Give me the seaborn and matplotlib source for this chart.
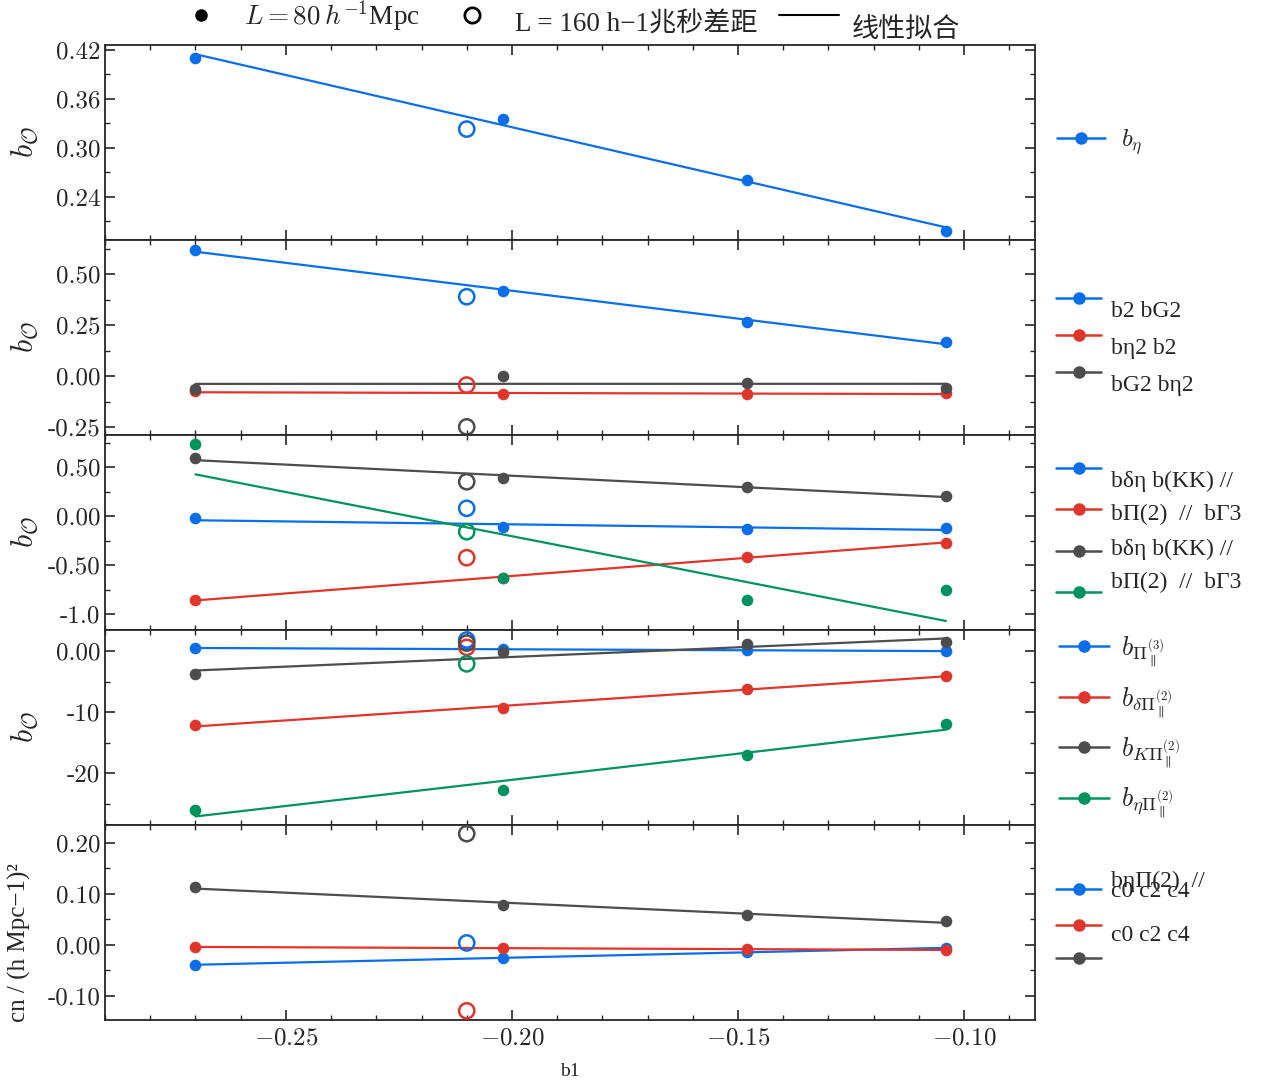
import numpy as np
import matplotlib
matplotlib.use('Agg')
import matplotlib.pyplot as plt
import seaborn as sns
from matplotlib.lines import Line2D
from matplotlib.ticker import MultipleLocator, AutoMinorLocator
from matplotlib.transforms import ScaledTranslation

# b1 of the 80 Mpc/h boxes (filled) and the 160 Mpc/h box (open)
b1_80 = [-0.270, -0.202, -0.148, -0.104]
b1_160 = [-0.210]

# panel 1
b_eta = [0.410, 0.335, 0.261, 0.198]
b_eta_160 = [0.323]

# panel 2
p2_blue = [0.618, 0.415, 0.265, 0.168]
p2_red = [-0.074, -0.090, -0.090, -0.082]
p2_gray = [-0.062, 0.000, -0.033, -0.057]
p2_blue_160 = [0.389]
p2_red_160 = [-0.044]
p2_gray_160 = [-0.249]

# panel 3
p3_blue = [-0.023, -0.109, -0.133, -0.119]
p3_red = [-0.857, -0.630, -0.415, -0.272]
p3_gray = [0.589, 0.385, 0.293, 0.207]
p3_green = [0.735, -0.630, -0.857, -0.755]
p3_blue_160 = [0.079]
p3_red_160 = [-0.425]
p3_gray_160 = [0.350]
p3_green_160 = [-0.160]

# panel 4
p4_blue = [0.5, 0.3, 0.1, 0.0]
p4_red = [-12.2, -9.3, -6.2, -4.1]
p4_gray = [-3.8, -0.2, 1.1, 1.4]
p4_green = [-26.1, -22.8, -17.0, -12.0]
p4_blue_160 = [1.8]
p4_red_160 = [0.6]
p4_gray_160 = [1.3]
p4_green_160 = [-2.1]

# panel 5
p5_blue = [-0.039, -0.025, -0.014, -0.006]
p5_red = [-0.004, -0.006, -0.008, -0.010]
p5_gray = [0.114, 0.078, 0.059, 0.047]
p5_blue_160 = [0.004]
p5_red_160 = [-0.129]
p5_gray_160 = [0.218]

labels_p1 = [r'$b_{\eta}$']
labels_p2 = ['b2 bG2', 'bη2 b2', 'bG2 bη2']
labels_p3 = ['bδη b(KK) //', 'bΠ(2)  //  bΓ3', 'bδη b(KK) //', 'bΠ(2)  //  bΓ3']
labels_p4 = [r'$b_{\Pi^{(3)}_{\parallel}}$', r'$b_{\delta\Pi^{(2)}_{\parallel}}$',
             r'$b_{K\Pi^{(2)}_{\parallel}}$', r'$b_{\eta\Pi^{(2)}_{\parallel}}$']
labels_p5 = ['bηΠ(2)  //\nc0 c2 c4', 'c0 c2 c4', '']
top_labels = [r'$L = 80\,h^{-1}$Mpc', 'L = 160 h−1兆秒差距', '线性拟合']

yticks = [
    ([0.24, 0.30, 0.36, 0.42], ['0.24', '0.30', '0.36', '0.42']),
    ([-0.25, 0.0, 0.25, 0.50], ['-0.25', '0.00', '0.25', '0.50']),
    ([-1.0, -0.5, 0.0, 0.5], ['-1.0', '-0.50', '0.00', '0.50']),
    ([-20, -10, 0], ['-20', '-10', '0.00']),
    ([-0.10, 0.0, 0.10, 0.20], ['-0.10', '0.00', '0.10', '0.20']),
]
ylims = [(0.187, 0.426), (-0.289, 0.667), (-1.163, 0.827), (-28.5, 3.44), (-0.147, 0.235)]

BLUE, RED, GRAY, GREEN = '#0a6ee8', '#e0352a', '#4d4d4d', '#00935f'
TEXT_FONT = ['Liberation Serif', 'Noto Sans CJK SC']

sns.set_style('ticks')
plt.rcParams['font.family'] = ['cmr10', 'DejaVu Serif', 'Noto Sans CJK SC']
plt.rcParams['mathtext.fontset'] = 'cm'
plt.rcParams['axes.formatter.use_mathtext'] = True
plt.rcParams['axes.linewidth'] = 1.3

# series, legend labels, legend font size, label spacing, text pad, text shifts (px down)
panels = [
    ([(b_eta, b_eta_160, BLUE)], labels_p1, 18, 0.5, 0.65, [0]),
    ([(p2_blue, p2_blue_160, BLUE), (p2_red, p2_red_160, RED), (p2_gray, p2_gray_160, GRAY)],
     labels_p2, 17, 0.65, 0.4, [11, 11, 11]),
    ([(p3_blue, p3_blue_160, BLUE), (p3_red, p3_red_160, RED), (p3_gray, p3_gray_160, GRAY),
      (p3_green, p3_green_160, GREEN)], labels_p3, 17, 0.85, 0.4, [11, 3, -4, -13]),
    ([(p4_blue, p4_blue_160, BLUE), (p4_red, p4_red_160, RED), (p4_gray, p4_gray_160, GRAY),
      (p4_green, p4_green_160, GREEN)], labels_p4, 19, 0.6, 0.45, [0, 0, 0, 0]),
    ([(p5_blue, p5_blue_160, BLUE), (p5_red, p5_red_160, RED), (p5_gray, p5_gray_160, GRAY)],
     labels_p5, 17, 0.5, 0.4, [-3, 8, 0]),
]

fig, axes = plt.subplots(5, 1, figsize=(12.66, 10.88), dpi=100, sharex=True)
fig.subplots_adjust(left=0.083, right=0.8175, top=0.9586, bottom=0.0625, hspace=0)

xfit = np.array([min(b1_80), max(b1_80)])

for i, (ax, (series, labels, fs, lsp, tpad, shifts)) in enumerate(zip(axes, panels)):
    handles = []
    for y80, y160, c in series:
        coef = np.polyfit(b1_80, y80, 1)
        sns.lineplot(x=xfit, y=np.polyval(coef, xfit), color=c, lw=1.6, ax=ax)
        sns.scatterplot(x=b1_80, y=y80, color=c, s=70, linewidth=0, ax=ax, zorder=3)
        sns.scatterplot(x=b1_160, y=y160, color=c, facecolor='none', edgecolor=c,
                        s=120, linewidth=1.8, ax=ax, zorder=3)
        handles.append(Line2D([], [], color=c, lw=1.8, marker='o', ms=8))
    leg = ax.legend(handles, labels, loc='center left', bbox_to_anchor=(1.0, 0.5),
                    frameon=False, prop={'family': TEXT_FONT, 'size': fs},
                    handlelength=1.9, handletextpad=tpad, labelspacing=lsp)
    for t, dy in zip(leg.get_texts(), shifts):
        t.set_transform(t.get_transform() + ScaledTranslation(0, -dy / 100, fig.dpi_scale_trans))
    if i == 4:
        leg.get_texts()[0].set_linespacing(0.3)

    vals, strs = yticks[i]
    ax.set_yticks(vals)
    ax.set_yticklabels(strs)
    ax.set_ylim(*ylims[i])
    ax.yaxis.set_minor_locator(AutoMinorLocator(2))
    ax.tick_params(which='both', direction='in', top=True, right=True, labelsize=18)
    ax.tick_params(which='major', length=7, width=1.2)
    ax.tick_params(which='minor', length=3.5, width=1.0)
    if i < 4:
        ax.set_ylabel(r'$b_{\mathcal{O}}$', fontsize=22)
        ax.yaxis.set_label_coords(-0.07, 0.5)
    else:
        ax.set_ylabel('cn / (h Mpc−1)²', fontsize=18, family=TEXT_FONT)
        ax.yaxis.set_label_coords(-0.08, 0.4)

axes[-1].set_xlim(-0.29, -0.0843)
axes[-1].xaxis.set_major_locator(MultipleLocator(0.05))
axes[-1].xaxis.set_minor_locator(MultipleLocator(0.01))
axes[-1].tick_params(axis='x', pad=5)
axes[-1].set_xlabel('b1', fontsize=14, family=TEXT_FONT, labelpad=10)

top_handles = [
    Line2D([], [], color='k', ls='none', marker='o', ms=8),
    Line2D([], [], color='k', ls='none', marker='o', mfc='none', mew=2, ms=11),
    Line2D([], [], color='k', lw=1.5),
]
tleg = fig.legend(top_handles, top_labels, loc='upper center', bbox_to_anchor=(0.447, 1.024),
                  ncol=3, frameon=False, prop={'family': TEXT_FONT, 'size': 19.5},
                  handlelength=2.2, handletextpad=0.5, columnspacing=0.8)
for t, dy in zip(tleg.get_texts(), [0, 7, 12]):
    t.set_transform(t.get_transform() + ScaledTranslation(0, -dy / 100, fig.dpi_scale_trans))

fig.savefig('out.png', dpi=100)
